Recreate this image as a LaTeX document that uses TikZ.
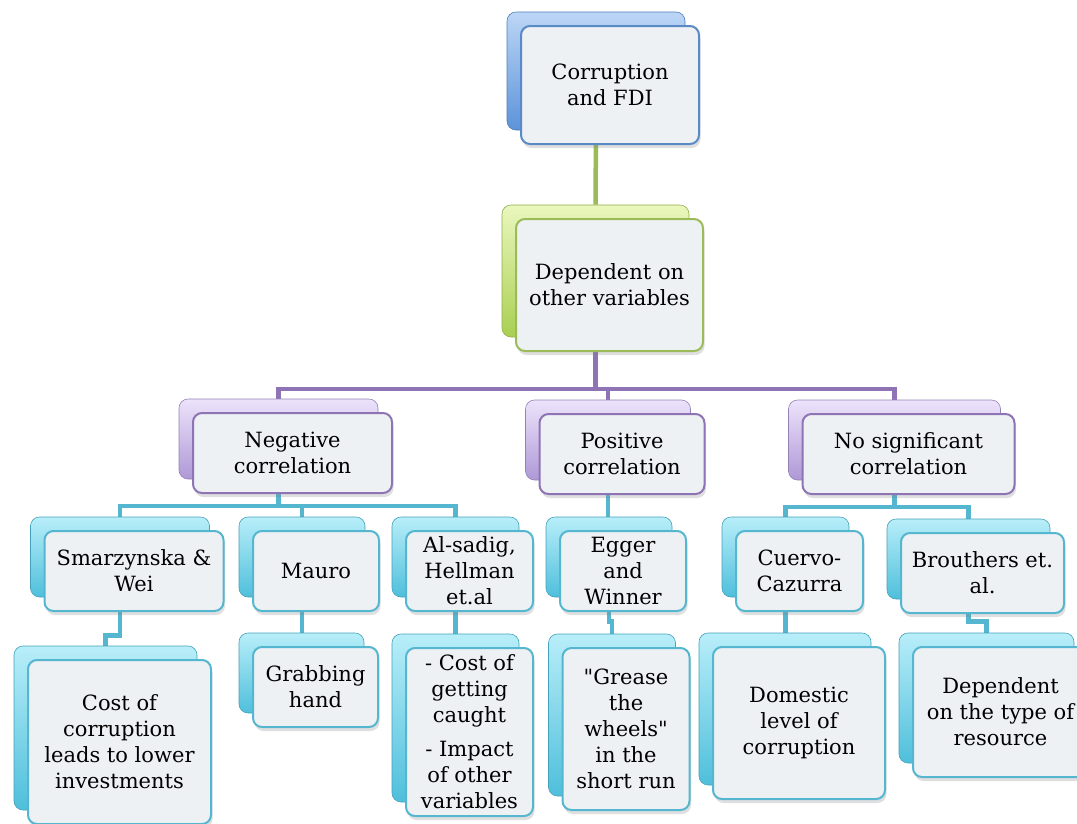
\documentclass[tikz,border=0pt]{standalone}
\usepackage{fontspec}
\setmainfont{DejaVu Serif}
\usetikzlibrary{backgrounds,shadows,calc}
\definecolor{frontfill}{HTML}{EEF1F4}
\definecolor{blueline}{HTML}{5A8AC6}
\definecolor{blueA}{HTML}{BCD6F6}
\definecolor{blueB}{HTML}{5C93DA}
\definecolor{greenline}{HTML}{9BBB59}
\definecolor{greenA}{HTML}{EAF7BE}
\definecolor{greenB}{HTML}{A9CF52}
\definecolor{purpleline}{HTML}{8E74B4}
\definecolor{purpleA}{HTML}{EDE3FB}
\definecolor{purpleB}{HTML}{AE98D6}
\definecolor{tealline}{HTML}{55B6CF}
\definecolor{tealA}{HTML}{B8EEF9}
\definecolor{tealB}{HTML}{4FBFDB}
\tikzset{
    back/.style = {rectangle, rounded corners=9pt, inner sep=0pt, line width=0.6pt},
    front/.style = {rectangle, rounded corners=9pt, inner sep=0pt,
        fill=frontfill, line width=2pt, align=center,
        font=\fontsize{21}{26}\selectfont,
        drop shadow={shadow xshift=1.5pt, shadow yshift=-4pt, opacity=0.25}},
    bblue/.style = {back, top color=blueA, middle color=blueB!80!blueA, bottom color=blueB, draw=blueB!85!black},
    fblue/.style = {front, draw=blueline},
    bgreen/.style = {back, top color=greenA, middle color=greenB!80!greenA, bottom color=greenB, draw=greenB!85!black},
    fgreen/.style = {front, draw=greenline},
    bpurple/.style = {back, top color=purpleA, middle color=purpleB!80!purpleA, bottom color=purpleB, draw=purpleB!85!black},
    fpurple/.style = {front, draw=purpleline},
    bteal/.style = {back, top color=tealA, middle color=tealB!80!tealA, bottom color=tealB, draw=tealB!85!black},
    fteal/.style = {front, draw=tealline},
    link/.style = {line width=4.5pt},
    linkgreen/.style = {link, draw=greenline},
    linkpurple/.style = {link, draw=purpleline},
    linkteal/.style = {link, draw=tealline}
}
\begin{document}
\begin{tikzpicture}[x=1pt, y=-1pt]
    \useasboundingbox (0,0) rectangle (1077,823);
    % top
    \node[bblue, minimum width=178pt, minimum height=118pt] (btop) at (596,71) {};
    \node[fblue, minimum width=178pt, minimum height=118pt] (top) at (610,85) {Corruption\\and FDI};
    \node[bgreen, minimum width=187pt, minimum height=132pt] (bdep) at (595.5,271) {};
    \node[fgreen, minimum width=187pt, minimum height=132pt] (dep) at (609.5,285) {Dependent on\\other variables};
    % correlation
    \node[bpurple, minimum width=199pt, minimum height=80pt] (bneg) at (278.5,439) {};
    \node[fpurple, minimum width=199pt, minimum height=80pt] (neg) at (292.5,453) {Negative\\correlation};
    \node[bpurple, minimum width=165pt, minimum height=80pt] (bpos) at (608,440) {};
    \node[fpurple, minimum width=165pt, minimum height=80pt] (pos) at (622,454) {Positive\\correlation};
    \node[bpurple, minimum width=212pt, minimum height=80pt] (bnosig) at (894.5,440) {};
    \node[fpurple, minimum width=212pt, minimum height=80pt] (nosig) at (908.5,454) {No significant\\correlation};
    % authors
    \node[bteal, minimum width=179pt, minimum height=80pt] (bsm) at (120,557) {};
    \node[fteal, minimum width=179pt, minimum height=80pt] (sm) at (134,571) {Smarzynska \&\\Wei};
    \node[bteal, minimum width=126pt, minimum height=80pt] (bmau) at (302,557) {};
    \node[fteal, minimum width=126pt, minimum height=80pt] (mau) at (316,571) {Mauro};
    \node[bteal, minimum width=127pt, minimum height=80pt] (bals) at (455.5,557) {};
    \node[fteal, minimum width=127pt, minimum height=80pt] (als) at (469.5,571) {Al-sadig,\\Hellman\\et.al};
    \node[bteal, minimum width=126pt, minimum height=80pt] (begg) at (609,557) {};
    \node[fteal, minimum width=126pt, minimum height=80pt] (egg) at (623,571) {Egger\\and\\Winner};
    \node[bteal, minimum width=127pt, minimum height=80pt] (bcue) at (785.5,557) {};
    \node[fteal, minimum width=127pt, minimum height=80pt] (cue) at (799.5,571) {Cuervo-\\Cazurra};
    \node[bteal, minimum width=163pt, minimum height=80pt] (bbro) at (968.5,559) {};
    \node[fteal, minimum width=163pt, minimum height=80pt] (bro) at (982.5,573) {Brouthers et.\\al.};
    % findings
    \node[bteal, minimum width=183pt, minimum height=164pt] (bcost) at (105.5,728) {};
    \node[fteal, minimum width=183pt, minimum height=164pt] (cost) at (119.5,742) {Cost of\\corruption\\leads to lower\\investments};
    \node[bteal, minimum width=125pt, minimum height=80pt] (bgrab) at (301.5,673) {};
    \node[fteal, minimum width=125pt, minimum height=80pt] (grab) at (315.5,687) {Grabbing\\hand};
    \node[bteal, minimum width=127pt, minimum height=168pt] (bimp) at (455.5,718) {};
    \node[fteal, minimum width=127pt, minimum height=168pt] (imp) at (469.5,732) {- Cost of\\getting\\caught\\[8pt]- Impact\\of other\\variables};
    \node[bteal, minimum width=127pt, minimum height=162pt] (bgrs) at (612,715) {};
    \node[fteal, minimum width=127pt, minimum height=162pt] (grs) at (626,729) {\textquotedbl Grease\\the\\wheels\textquotedbl\\in the\\short run};
    \node[bteal, minimum width=172pt, minimum height=152pt] (bdom) at (785,709) {};
    \node[fteal, minimum width=172pt, minimum height=152pt] (dom) at (799,723) {Domestic\\level of\\corruption};
    \node[bteal, minimum width=175pt, minimum height=130pt] (btype) at (986.5,698) {};
    \node[fteal, minimum width=175pt, minimum height=130pt] (type) at (1000.5,712) {Dependent\\on the type of\\resource};
    % connectors
    \begin{scope}[on background layer]
        \coordinate (busA) at (0,389);
        \coordinate (busB) at (0,506);
        \coordinate (busC) at (0,507);
        \draw[linkgreen] (btop.south) -- (bdep.north);
        \foreach \k in {bneg,bpos,bnosig}
            \draw[linkpurple] (bdep.south) |- (busA -| \k) -- (\k.north);
        \foreach \k in {bsm,bmau,bals}
            \draw[linkteal] (bneg.south) |- (busB -| \k) -- (\k.north);
        \draw[linkteal] (bpos.south) -- (bpos.south |- begg.north);
        \foreach \k in {bcue,bbro}
            \draw[linkteal] (bnosig.south) |- (busC -| \k) -- (\k.north);
        \draw[linkteal] (bsm.south) |- ($(bcost.north)+(0,-10)$) -- (bcost.north);
        \draw[linkteal] (bmau.south) -- (bmau.south |- bgrab.north);
        \draw[linkteal] (bals.south) -- (bals.south |- bimp.north);
        \draw[linkteal] (begg.south) |- ($(bgrs.north)+(0,-12)$) -- (bgrs.north);
        \draw[linkteal] (bcue.south) -- (bcue.south |- bdom.north);
        \draw[linkteal] (bbro.south) |- ($(btype.north)+(0,-11)$) -- (btype.north);
    \end{scope}
\end{tikzpicture}
\end{document}
